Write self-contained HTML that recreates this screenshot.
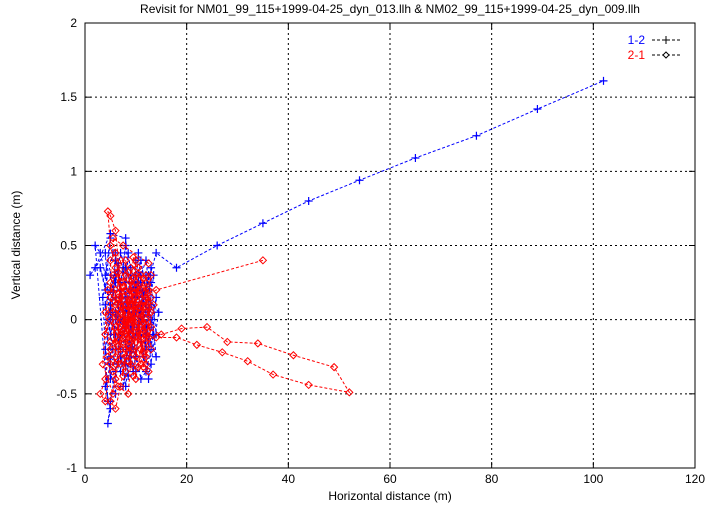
<!DOCTYPE html>
<html><head><meta charset="utf-8"><style>
body{margin:0;background:#fff;}
svg{display:block;font-family:"Liberation Sans",sans-serif;}
</style></head><body>
<svg id="chart" width="721" height="505" viewBox="0 0 721 505" xmlns="http://www.w3.org/2000/svg">
<text x="390" y="13" font-size="12" text-anchor="middle">Revisit for NM01_99_115+1999-04-25_dyn_013.llh &amp; NM02_99_115+1999-04-25_dyn_009.llh</text>
<g id="grid"></g>
<g id="axes"></g>
<g id="series"></g>
<text x="390" y="500" font-size="12" text-anchor="middle">Horizontal distance (m)</text>
<text x="20" y="245" font-size="12" text-anchor="middle" transform="rotate(-90 20 245)">Vertical distance (m)</text>
<g>
<text x="645" y="44" font-size="12" fill="#0000ff" text-anchor="end">1-2</text>
<line x1="652" y1="40" x2="680" y2="40" stroke="#000" stroke-width="1" stroke-dasharray="3,2"/>
<path d="M662 40h8M666 36v8" stroke="#000" stroke-width="1"/>
<text x="645" y="59" font-size="12" fill="#ff0000" text-anchor="end">2-1</text>
<line x1="652" y1="55" x2="680" y2="55" stroke="#000" stroke-width="1" stroke-dasharray="3,2"/>
<path d="M666 52l3 3l-3 3l-3 -3z" fill="#fff" stroke="#000" stroke-width="1"/>
</g>
</svg>
<script>
const xTicks=[0,20,40,60,80,100,120];
const yTicks=[-1,-0.5,0,0.5,1,1.5,2];
const yTickLabels=["-1","-0.5","0","0.5","1","1.5","2"];
const bluePoints=[[6.5,0.1],[8.5,-0.2],[10.5,0.25],[12.5,-0.15],[7.5,0.35],[9.5,-0.35],[11.5,0.15],[13.5,-0.1],[6.5,-0.3],[8.5,0.45],[10.5,-0.05],[12.5,0.3],[7.5,-0.45],[9.5,0.05],[11.5,-0.25],[13.5,0.3],[5.5,-0.2],[4.5,0.0],[6.5,0.38],[8.5,-0.38],[10.5,0.45],[12.5,-0.4],[14.5,0.05],[5.5,0.45],[3.5,0.15],[4.5,-0.55],[2,0.5],[3,0.45],[4,0.3],[5,0.55],[4,0.2],[3,0.35],[5,0.1],[6,0.4],[7,0.25],[8,0.5],[6,-0.1],[5,0.05],[7,-0.2],[9,0.3],[10,0.15],[11,0.4],[12,0.2],[13,0.35],[12,-0.1],[11,0.05],[10,-0.25],[9,0.1],[8,-0.05],[7,0.2],[6,0.0],[5,-0.3],[4,-0.45],[5,-0.6],[4.5,-0.7],[5,-0.55],[6,-0.35],[7,-0.1],[8,0.15],[9,-0.2],[10,0.3],[11,-0.15],[12,0.1],[13,-0.05],[14,0.15],[13,-0.2],[12,-0.35],[11,-0.1],[10,0.05],[9,-0.3],[8,0.35],[7,0.45],[6,0.25],[5,0.3],[7,0.0],[9,0.2],[11,0.25],[13,0.0],[12,0.3],[10,-0.1],[8,-0.3],[6,-0.2],[5,-0.4],[4,0.1],[5,0.2],[6,0.15],[8,0.05],[10,0.2],[12,-0.2],[14,-0.1],[13,0.25],[11,0.1],[9,0.35],[7,-0.35],[5,-0.25],[6,0.45],[8,-0.15],[10,0.4],[12,0.05],[13,-0.3],[11,-0.4],[9,-0.05],[7,0.1],[6,-0.5],[4,-0.2],[5,0.0],[6,0.3],[7,-0.25],[8,0.25],[9,0.0],[10,-0.35],[11,0.3],[12,0.4],[13,0.1],[14,-0.25],[12,-0.05],[10,0.1],[8,-0.45],[6,0.05],[5,-0.1],[4,0.45],[1,0.3],[2,0.35],[5,0.58],[8,0.55],[9,0.1],[12,0.2],[14,0.45],[18,0.35],[26,0.5],[35,0.65],[44,0.8],[54,0.94],[65,1.09],[77,1.24],[89,1.42],[102,1.61]];
const redPoints=[[35,0.4],[14,0.2],[5.5,0.05],[7.5,-0.15],[9.5,0.18],[11.5,-0.22],[6.5,0.32],[8.5,-0.28],[10.5,0.08],[12.5,-0.12],[5.5,-0.35],[7.5,0.22],[9.5,-0.08],[11.5,0.28],[6.5,-0.18],[8.5,0.12],[10.5,-0.32],[12.5,0.2],[5.5,0.3],[7.5,-0.38],[9.5,0.42],[11.5,-0.02],[6.5,0.02],[8.5,0.32],[10.5,-0.12],[12.5,-0.35],[4.5,-0.25],[6.5,-0.45],[8.5,-0.5],[10.5,0.35],[12.5,0.38],[7.5,0.5],[5.5,0.55],[9.5,-0.38],[11.5,0.12],[6.5,-0.08],[8.5,0.0],[4.5,0.2],[3.5,-0.3],[5.5,-0.5],[7.5,0.0],[9.5,0.28],[11.5,-0.32],[13.5,0.1],[10.5,0.2],[8.5,-0.12],[6.5,0.15],[12,0.1],[10,0.3],[8,-0.1],[6,0.6],[5,0.7],[4.5,0.73],[5,0.5],[6,0.35],[7,0.1],[8,0.3],[9,-0.2],[10,0.15],[11,-0.1],[12,0.25],[13,-0.05],[12,-0.3],[11,0.05],[10,-0.25],[9,0.2],[8,-0.35],[7,-0.05],[6,0.2],[5,-0.15],[4,-0.4],[3,-0.5],[4,-0.55],[5,-0.3],[6,-0.05],[7,0.25],[8,0.0],[9,-0.1],[10,0.1],[11,0.2],[12,-0.15],[13,0.15],[12,0.0],[11,-0.3],[10,-0.05],[9,0.25],[8,0.1],[7,-0.2],[6,-0.4],[5,-0.55],[6,-0.6],[7,-0.45],[8,-0.25],[9,0.05],[10,-0.15],[11,0.1],[12,0.3],[13,-0.2],[12,0.15],[10,0.4],[9,-0.3],[8,0.2],[7,0.4],[6,0.1],[5,0.25],[6,-0.25],[7,0.05],[8,-0.2],[9,0.35],[10,-0.4],[11,-0.2],[12,0.05],[13,0.05],[11,0.3],[9,0.0],[7,-0.3],[5,0.0],[4,-0.1],[5,0.15],[6,-0.15],[8,0.4],[10,0.0],[12,-0.25],[13,0.3],[11,-0.05],[9,-0.15],[7,0.15],[6,0.45],[5,0.4],[6,-0.3],[8,-0.05],[10,0.25],[12,-0.1],[14,-0.12],[18,-0.12],[22,-0.17],[27,-0.22],[32,-0.28],[37,-0.37],[44,-0.44],[52,-0.49],[49,-0.32],[41,-0.24],[34,-0.16],[28,-0.15],[24,-0.05],[19,-0.06],[15,-0.1],[12,-0.05],[9,0.1],[7,-0.1],[5,-0.2],[4,0.05]];

const X0=85,X1=695,Y0=468,Y1=23;
const sx=v=>X0+(v-0)/(120-0)*(X1-X0);
const sy=v=>Y0-(v-(-1))/(2-(-1))*(Y0-Y1);
const NS="http://www.w3.org/2000/svg";
function mk(parent,tag,attrs){const e=document.createElementNS(NS,tag);for(const k in attrs)e.setAttribute(k,attrs[k]);parent.appendChild(e);return e;}
const grid=document.getElementById('grid'),axes=document.getElementById('axes'),series=document.getElementById('series');
xTicks.forEach(t=>{
  const x=sx(t);
  if(t>0&&t<120){const g=mk(grid,'line',{x1:x,y1:Y1,x2:x,y2:Y0,stroke:'#000','stroke-width':1,'stroke-dasharray':'2,3'});
  
  }
  mk(axes,'line',{x1:x,y1:Y0,x2:x,y2:Y0-6,stroke:'#000'});
  mk(axes,'line',{x1:x,y1:Y1,x2:x,y2:Y1+6,stroke:'#000'});
  const tx=mk(axes,'text',{x:x,y:Y0+15,'font-size':12,'text-anchor':'middle'});tx.textContent=t;
  
  
});
yTicks.forEach((t,i)=>{
  const y=sy(t);
  if(i>0&&i<yTicks.length-1){const g=mk(grid,'line',{x1:X0,y1:y,x2:X1,y2:y,stroke:'#000','stroke-width':1,'stroke-dasharray':'2,3'});
  
  }
  mk(axes,'line',{x1:X0,y1:y,x2:X0+6,y2:y,stroke:'#000'});
  mk(axes,'line',{x1:X1,y1:y,x2:X1-6,y2:y,stroke:'#000'});
  const tx=mk(axes,'text',{x:X0-8,y:y+4,'font-size':12,'text-anchor':'end'});tx.textContent=yTickLabels[i];
  
  
});
mk(axes,'rect',{x:X0,y:Y1,width:X1-X0,height:Y0-Y1,fill:'none',stroke:'#000'});
function drawSeries(pts,color,marker,name){
  const g=mk(series,'g',{});
  
  
  mk(g,'polyline',{points:pts.map(p=>sx(p[0])+','+sy(p[1])).join(' '),fill:'none',stroke:color,'stroke-width':1,'stroke-dasharray':'3,2'});
  pts.forEach(p=>{
    const x=sx(p[0]),y=sy(p[1]);let m;
    if(marker==='plus')m=mk(g,'path',{d:`M${x-4} ${y}h8M${x} ${y-4}v8`,stroke:color,'stroke-width':1.2});
    else m=mk(g,'path',{d:`M${x} ${y-3.5}l3.5 3.5l-3.5 3.5l-3.5 -3.5z`,fill:'none',stroke:color,'stroke-width':1});
    
    
  });
}
drawSeries(bluePoints,'#0000ff','plus','series-1-2');
drawSeries(redPoints,'#ff0000','diamond','series-2-1');
</script>
</body></html>
